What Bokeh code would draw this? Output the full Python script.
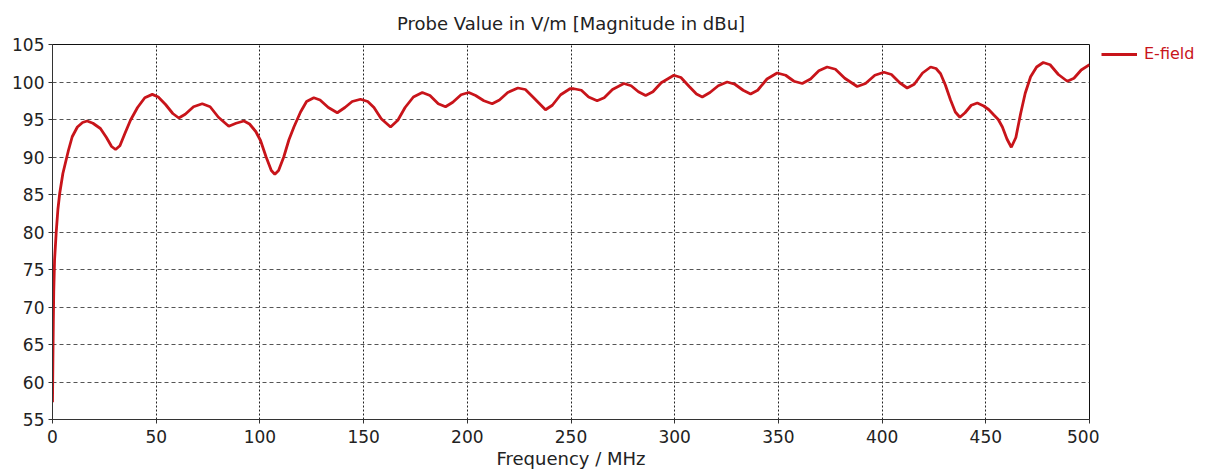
from bokeh.plotting import figure
from bokeh.models import Range1d, FixedTicker, Legend, LegendItem
from bokeh.layouts import row
from bokeh.embed import file_html
from bokeh.resources import INLINE

# Frequency in MHz
freq = [0, 0.2, 0.4, 0.6, 1.0, 1.8, 2.6, 3.5, 5, 7.7, 9.5, 12, 14.5, 16.7, 19.5, 23.1, 26, 28.5,
        30.4, 32.5, 35, 37.6, 41, 44.5, 48.1, 51, 54.5, 58, 60.9, 64, 68, 72.2, 76, 80, 85, 88.5,
        92.3, 95, 98, 100.3, 103, 105.5, 107.2, 109, 111.5, 114, 116.4, 119.6, 122.5, 126, 129,
        133, 137.3, 141, 144.5, 148.5, 152, 155, 158.5, 163, 166.5, 170, 174, 178.3, 182, 186,
        189.5, 193, 197, 200.7, 204, 208, 212, 215.5, 219.5, 224.4, 228, 232, 237.7, 241, 245,
        249.5, 251.4, 255, 258.5, 262.6, 266, 270, 275.5, 279, 282.5, 286, 289.5, 293.5, 299.6,
        303, 307, 310.5, 313.3, 317, 321, 325.3, 329, 333, 336.6, 340, 344.5, 349.4, 353.5,
        357.5, 361.5, 365.5, 369.5, 373.5, 377.5, 382, 388, 392, 396.5, 400.9, 404.5, 408.5,
        412.1, 415.5, 419.5, 423.4, 426, 428.2, 430.5, 433, 435.3, 437.5, 440, 443, 445.9, 449,
        451.5, 453.9, 456, 458, 460.2, 462.3, 464.5, 466.8, 469, 471.6, 474.5, 477.7, 481, 485,
        489.3, 492.5, 496, 500]
# E-field magnitude in dBu
efield = [57.3, 63, 68, 72, 76.3, 80, 83, 85.2, 87.8, 90.9, 92.7, 94.0, 94.6, 94.8, 94.5, 93.8, 92.6, 91.4,
          91.0, 91.5, 93.2, 94.9, 96.6, 97.9, 98.35, 98.0, 97.0, 95.8, 95.2, 95.7, 96.7, 97.1, 96.7, 95.3, 94.1, 94.5,
          94.8, 94.4, 93.4, 92.2, 90.0, 88.2, 87.7, 88.2, 90.0, 92.3, 94.0, 96.0, 97.4, 97.9, 97.6,
          96.6, 95.9, 96.6, 97.4, 97.7, 97.4, 96.6, 95.1, 94.0, 94.9, 96.6, 98.0, 98.6, 98.2, 97.1,
          96.7, 97.3, 98.3, 98.6, 98.2, 97.5, 97.1, 97.6, 98.6, 99.2, 99.0, 97.9, 96.3, 96.9, 98.3,
          99.1, 99.1, 98.9, 98.0, 97.5, 97.9, 99.0, 99.8, 99.5, 98.7, 98.2, 98.7, 99.9, 100.9,
          100.6, 99.4, 98.4, 98.0, 98.6, 99.5, 100.0, 99.7, 98.9, 98.4, 98.9, 100.4, 101.2, 100.9,
          100.1, 99.8, 100.4, 101.5, 102.0, 101.7, 100.5, 99.4, 99.8, 100.9, 101.3, 101.0, 99.9,
          99.2, 99.7, 101.2, 102.0, 101.8, 101.1, 99.6, 97.6, 96.0, 95.3, 95.9, 96.9, 97.2, 96.8,
          96.3, 95.6, 95.0, 94.0, 92.4, 91.3, 92.6, 95.8, 98.5, 100.7, 102.0, 102.6, 102.3, 101.0,
          100.1, 100.5, 101.6, 102.3]

series_name = "E-field"
x_ticks = [0, 50, 100, 150, 200, 250, 300, 350, 400, 450, 500]
y_ticks = [55, 60, 65, 70, 75, 80, 85, 90, 95, 100, 105]

FONT = "DejaVu Sans"
RED = "#c8141a"

p = figure(width=1099, height=471, output_backend="svg", toolbar_location=None,
           x_range=Range1d(0, 500), y_range=Range1d(55, 105),
           min_border_left=52, min_border_right=10, min_border_top=44, min_border_bottom=51,
           title="Probe Value in V/m [Magnitude in dBu]")
p.background_fill_color = "white"
p.border_fill_color = "white"
p.outline_line_color = "#111111"
p.outline_line_width = 1

p.title.align = "center"
p.title.text_font = FONT
p.title.text_font_size = "18px"
p.title.text_font_style = "normal"
p.title.text_color = "#222222"
p.title.standoff = 21

line = p.line(freq, efield, line_color=RED, line_width=2.8)

p.xaxis.ticker = FixedTicker(ticks=x_ticks)
p.yaxis.ticker = FixedTicker(ticks=y_ticks)
p.xaxis.axis_label = "Frequency / MHz"
for ax in (p.xaxis, p.yaxis):
    ax.axis_line_color = "#333333"
    ax.major_tick_line_color = "#333333"
    ax.major_tick_in = 0
    ax.major_tick_out = 4
    ax.minor_tick_line_color = None
    ax.major_label_text_font = FONT
    ax.major_label_text_font_size = "17px"
    ax.major_label_text_color = "#222222"
    ax.axis_label_text_font = FONT
    ax.axis_label_text_font_size = "18px"
    ax.axis_label_text_font_style = "normal"
    ax.axis_label_text_color = "#222222"
p.xaxis.major_label_standoff = 6
p.xaxis.axis_label_standoff = 2
p.yaxis.major_label_standoff = 4

p.xgrid.grid_line_color = "#222222"
p.xgrid.grid_line_dash = "2 2"
p.xgrid.grid_line_width = 1
p.ygrid.grid_line_color = "#555555"
p.ygrid.grid_line_dash = "4 3"
p.ygrid.grid_line_width = 1

# Legend panel to the right of the plot (proxy renderer lies outside its view)
q = figure(width=117, height=471, output_backend="svg", toolbar_location=None,
           x_axis_type=None, y_axis_type=None,
           min_border_left=2, min_border_top=44, min_border_right=0, min_border_bottom=51,
           x_range=Range1d(-2, -1), y_range=Range1d(-2, -1))
q.outline_line_color = None
q.background_fill_color = "white"
q.border_fill_color = "white"
proxy = q.line(x=freq[:2], y=efield[:2], line_color=RED, line_width=2.8)
legend = Legend(items=[LegendItem(label=series_name, renderers=[proxy])],
                location="top_left", glyph_width=36, glyph_height=18,
                label_standoff=7, padding=4, margin=0, spacing=0,
                border_line_color=None, background_fill_alpha=0,
                label_text_font=FONT, label_text_font_size="16px", label_text_color=RED)
q.add_layout(legend, "center")

layout = row(p, q, spacing=0)
open("out.html", "w").write(file_html(layout, INLINE))
